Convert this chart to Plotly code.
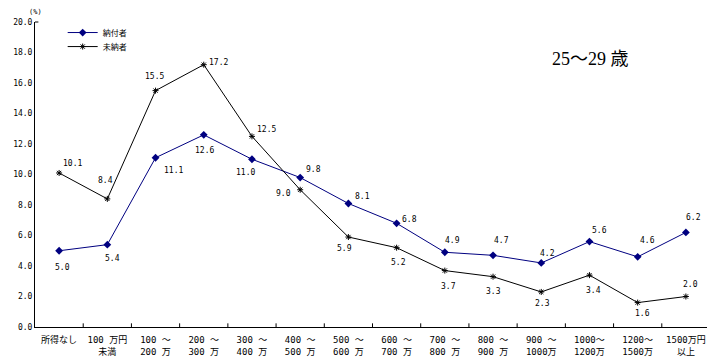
import plotly.graph_objects as go

categories = ["所得なし", "100 万円<br>未満", "100 ～<br>200 万", "200 ～<br>300 万", "300 ～<br>400 万",
              "400 ～<br>500 万", "500 ～<br>600 万", "600 ～<br>700 万", "700 ～<br>800 万",
              "800 ～<br>900 万", "900 ～<br>1000万", "1000～<br>1200万", "1200～<br>1500万", "1500万円<br>以上"]
paid = [5.0, 5.4, 11.1, 12.6, 11.0, 9.8, 8.1, 6.8, 4.9, 4.7, 4.2, 5.6, 4.6, 6.2]
unpaid = [10.1, 8.4, 15.5, 17.2, 12.5, 9.0, 5.9, 5.2, 3.7, 3.3, 2.3, 3.4, 1.6, 2.0]

# label offsets in pixels (styling only)
paid_dx = [3, 5, 18, 1, -6, 13, 14, 13, 8, 8, 6, 10, 10, 8]
paid_dy = [-17, -14, -13, -16, -13, 8, 7, 4, 12, 15, 9, 11, 16, 15]
unpaid_dx = [13, -2, -1, 15, 15, -17, -4, 2, 4, 0, 1, 4, 5, 5]
unpaid_dy = [9, 18, 14, 2, 7, -4, -11, -15, -16, -15, -12, -15, -11, 12]

MONO = "DejaVu Sans Mono, Noto Sans CJK JP"
CJK = "Noto Sans CJK JP"
x = list(range(len(categories)))

fig = go.Figure()
fig.add_trace(go.Scatter(
    x=x, y=paid, name="納付者", mode="lines+markers", legend="legend",
    line=dict(color="#000080", width=1),
    marker=dict(symbol="diamond", size=6, color="#000080"),
))
fig.add_trace(go.Scatter(
    x=x, y=unpaid, name="未納者", mode="lines+markers", legend="legend2",
    line=dict(color="black", width=1),
    marker=dict(symbol="asterisk-open", size=5, color="black", line=dict(width=1, color="black")),
))

annotations = []
for xi, v, dx, dy in zip(x, paid, paid_dx, paid_dy):
    annotations.append(dict(x=xi, y=v, xref="x", yref="y", text=f"{v:.1f}", showarrow=False,
                            xshift=dx, yshift=dy, font=dict(family=MONO, size=8, color="black")))
for xi, v, dx, dy in zip(x, unpaid, unpaid_dx, unpaid_dy):
    annotations.append(dict(x=xi, y=v, xref="x", yref="y", text=f"{v:.1f}", showarrow=False,
                            xshift=dx, yshift=dy, font=dict(family=MONO, size=8, color="black")))
annotations.append(dict(text="(%)", x=0, y=1.0, xref="paper", yref="paper", xanchor="center",
                        yanchor="bottom", yshift=4, showarrow=False, font=dict(family=MONO, size=7)))
annotations.append(dict(text="25～29 歳", x=0.823, y=0.878, xref="paper", yref="paper",
                        xanchor="center", yanchor="middle", showarrow=False,
                        font=dict(family="Liberation Serif, Noto Sans CJK JP", size=18)))

leg_common = dict(xanchor="left", yanchor="top", bgcolor="rgba(0,0,0,0)",
                  font=dict(family=CJK, size=8), itemwidth=30)

fig.update_layout(
    width=707, height=354,
    margin=dict(l=25, r=5, t=14, b=35),
    paper_bgcolor="white", plot_bgcolor="white",
    font=dict(family=MONO, size=8, color="black"),
    showlegend=True,
    legend=dict(x=0.041, y=1.013, **leg_common),
    legend2=dict(x=0.041, y=0.967, **leg_common),
    xaxis=dict(
        range=[-0.5, len(categories) - 0.5],
        tickmode="array", tickvals=x, ticktext=categories,
        showline=True, linecolor="black", linewidth=1,
        ticks="", showgrid=False, zeroline=False, automargin=False,
        ticklabelstandoff=4,
        tickfont=dict(family=MONO, size=9),
    ),
    yaxis=dict(
        range=[0, 20], tickmode="array", tickvals=[i * 2 for i in range(11)],
        ticktext=[f"{i * 2:.1f}" for i in range(11)],
        showline=True, linecolor="black", linewidth=1,
        ticks="", showgrid=False, zeroline=False,
        tickfont=dict(family=MONO, size=8),
    ),
    annotations=annotations,
)

# boundary ticks on x axis (pointing up) and top stub of y axis
for b in range(1, len(categories)):
    fig.add_shape(type="line", x0=b - 0.5, x1=b - 0.5, y0=0, y1=0.012, xref="x", yref="paper",
                  line=dict(color="black", width=1))
fig.add_shape(type="line", x0=0, x1=0.005, y0=1, y1=1, xref="paper", yref="paper",
              line=dict(color="black", width=1))

fig.write_html("out.html")
